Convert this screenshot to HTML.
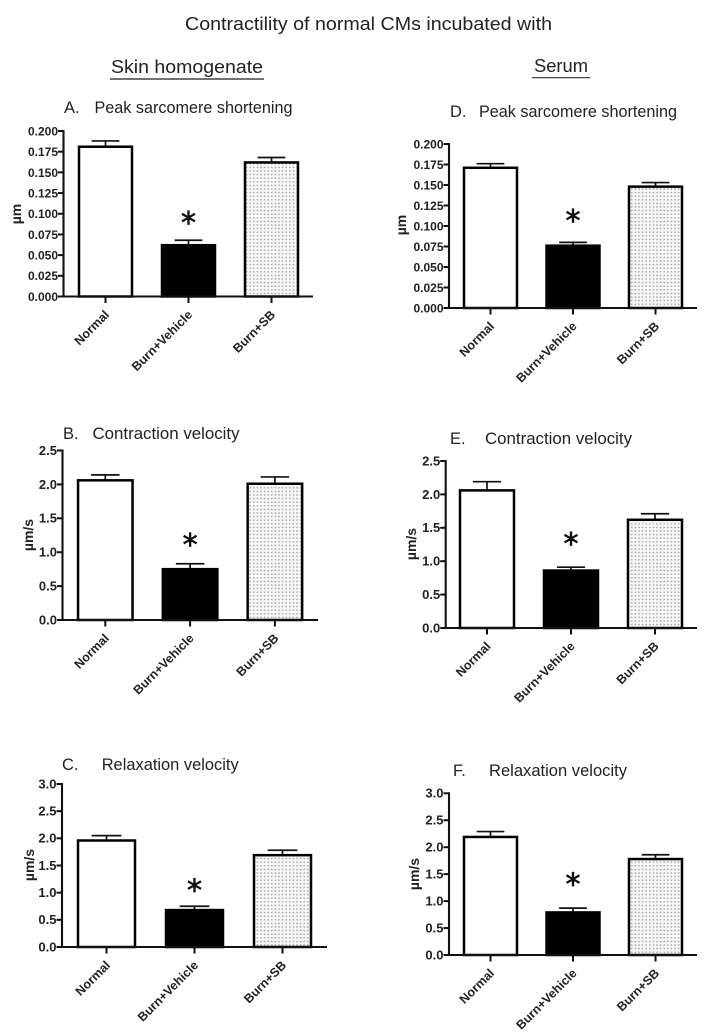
<!DOCTYPE html>
<html lang="en">
<head>
<meta charset="utf-8">
<title>Contractility of normal CMs</title>
<style>
html,body{margin:0;padding:0;background:#fff;width:716px;height:1033px;overflow:hidden}
svg{display:block;filter:blur(0.35px)}
.h{font-family:"Liberation Sans",sans-serif;fill:#222;font-size:16.5px}
.tick{font-family:"Liberation Sans",sans-serif;font-weight:bold;fill:#222}
.ast{font-family:"DejaVu Sans",sans-serif;fill:#111;stroke:#111;stroke-width:0.7px;font-size:30px;text-anchor:middle}
</style>
</head>
<body>
<svg id="fig" xmlns="http://www.w3.org/2000/svg" width="716" height="1033" viewBox="0 0 716 1033">
  <defs>
    <pattern id="dots" width="3.6" height="3.6" patternUnits="userSpaceOnUse">
      <rect width="3.6" height="3.6" fill="#f8f8f8"></rect>
      <circle cx="1.8" cy="1.8" r="0.8" fill="#999999"></circle>
    </pattern>
  </defs>
  <text class="h" x="185" y="30" style="font-size:18.5px" textLength="367" lengthAdjust="spacingAndGlyphs">Contractility of normal CMs incubated with</text>
  <text class="h" x="111" y="73" style="font-size:18.5px" textLength="152" lengthAdjust="spacingAndGlyphs">Skin homogenate</text>
  <line x1="110" y1="79" x2="264" y2="79" stroke="#444" stroke-width="1.5"></line>
  <text class="h" x="534" y="72" style="font-size:18.5px" textLength="54" lengthAdjust="spacingAndGlyphs">Serum</text>
  <line x1="532" y1="77.7" x2="590" y2="77.7" stroke="#333" stroke-width="1.2"></line>

  <text class="h" x="64" y="113">A.</text>
  <text class="h" x="94.5" y="113" textLength="198" lengthAdjust="spacingAndGlyphs">Peak sarcomere shortening</text>
  <text class="h" x="63" y="439">B.</text>
  <text class="h" x="92.5" y="439" textLength="147" lengthAdjust="spacingAndGlyphs">Contraction velocity</text>
  <text class="h" x="62" y="770">C.</text>
  <text class="h" x="101.7" y="770" textLength="137" lengthAdjust="spacingAndGlyphs">Relaxation velocity</text>
  <text class="h" x="450" y="117">D.</text>
  <text class="h" x="479" y="117" textLength="198" lengthAdjust="spacingAndGlyphs">Peak sarcomere shortening</text>
  <text class="h" x="450" y="444">E.</text>
  <text class="h" x="485" y="444" textLength="147" lengthAdjust="spacingAndGlyphs">Contraction velocity</text>
  <text class="h" x="453" y="776">F.</text>
  <text class="h" x="489" y="776" textLength="138" lengthAdjust="spacingAndGlyphs">Relaxation velocity</text>
</svg>
<script>
const categories = ['Normal', 'Burn+Vehicle', 'Burn+SB'];
const ticksShortening = ['0.000', '0.025', '0.050', '0.075', '0.100', '0.125', '0.150', '0.175', '0.200'];
const ticksContraction = ['0.0', '0.5', '1.0', '1.5', '2.0', '2.5'];
const ticksRelaxation = ['0.0', '0.5', '1.0', '1.5', '2.0', '2.5', '3.0'];

const meansA = [0.181, 0.062, 0.162];
const errTopsA = [0.188, 0.068, 0.168];
const meansB = [2.06, 0.75, 2.01];
const errTopsB = [2.14, 0.83, 2.11];
const meansC = [1.96, 0.68, 1.69];
const errTopsC = [2.05, 0.75, 1.78];
const meansD = [0.171, 0.076, 0.148];
const errTopsD = [0.176, 0.080, 0.153];
const meansE = [2.06, 0.86, 1.62];
const errTopsE = [2.19, 0.91, 1.71];
const meansF = [2.19, 0.79, 1.78];
const errTopsF = [2.29, 0.87, 1.86];

/* Significance marker height on the Burn+Vehicle bar, in axis units per panel */
const starLevels = [0.095, 1.18, 1.13, 0.112, 1.33, 1.40];

const NS = 'http://www.w3.org/2000/svg';
const fig = document.getElementById('fig');

function add(parent, tag, attrs, text) {
  const el = document.createElementNS(NS, tag);
  for (const k in attrs) el.setAttribute(k, attrs[k]);
  if (text !== undefined) el.textContent = text;
  parent.appendChild(el);
  return el;
}

function drawPanel(p) {
  const g = add(fig, 'g', {});
  
  

  const yMax = Number(p.ticks[p.ticks.length - 1]);
  const yScale = v => p.y0 - (v / yMax) * (p.y0 - p.yTop);
  const xScale = i => p.c0 + i * p.step;

  categories.forEach((cat, i) => {
    const cx = xScale(i);
    const sw = 2.5;
    const topY = yScale(p.means[i]);
    const errY = yScale(p.errTops[i]);

    const stem = add(g, 'line', { x1: cx, x2: cx, y1: topY, y2: errY, stroke: '#111', 'stroke-width': 1.7 });
    
    
    const cap = add(g, 'line', { x1: cx - p.w / 4, x2: cx + p.w / 4, y1: errY, y2: errY, stroke: '#111', 'stroke-width': 1.7 });
    
    

    const fill = i === 0 ? '#fff' : i === 1 ? '#000' : 'url(#dots)';
    const bar = add(g, 'rect', {
      x: cx - p.w / 2 + sw / 2, y: topY,
      width: p.w - sw, height: p.y0 - topY,
      fill: fill, stroke: '#000', 'stroke-width': sw
    });
    
    

    const tk = add(g, 'line', { x1: cx, x2: cx, y1: p.y0, y2: p.y0 + 6.5, stroke: '#111', 'stroke-width': 2 });
    
    

    const lx = cx + 4.5;
    const ly = p.y0 + 19;
    const lab = add(g, 'text', {
      class: 'tick', x: lx, y: ly, 'text-anchor': 'end',
      'font-size': 12.5, transform: 'rotate(-45 ' + lx + ' ' + ly + ')'
    }, cat);
    
    
  });

  const yAxis = add(g, 'line', { x1: p.axisX, x2: p.axisX, y1: p.yTop - 1, y2: p.y0 + 1, stroke: '#111', 'stroke-width': 2.1 });
  
  
  const xAxis = add(g, 'line', { x1: p.axisX - 5, x2: p.xEnd, y1: p.y0, y2: p.y0, stroke: '#111', 'stroke-width': 2.1 });
  
  

  p.ticks.forEach(label => {
    const y = yScale(Number(label));
    const tk = add(g, 'line', { x1: p.axisX - 5.5, x2: p.axisX, y1: y, y2: y, stroke: '#111', 'stroke-width': 2 });
    
    
    const t = add(g, 'text', {
      class: 'tick', x: p.axisX - 5.5, y: y + 4.4, 'text-anchor': 'end', 'font-size': p.tickSize
    }, label);
    
    
  });

  const yt = add(g, 'text', {
    class: 'tick', x: p.titleX, y: p.titleY, 'text-anchor': 'middle', 'font-size': 14,
    transform: 'rotate(-90 ' + p.titleX + ' ' + p.titleY + ')'
  }, p.unit);
  
  

  const star = add(g, 'text', { class: 'ast', x: xScale(1), y: yScale(p.star) + 15 }, '*');
  
  
}

drawPanel({ id: 'a', axisX: 63.5, xEnd: 313, y0: 296.5, yTop: 131, c0: 105.5, step: 83, w: 55.5, ticks: ticksShortening, means: meansA, errTops: errTopsA, star: starLevels[0], unit: 'µm', titleX: 21, titleY: 214, tickSize: 12 });
drawPanel({ id: 'b', axisX: 62.5, xEnd: 318, y0: 620, yTop: 450.5, c0: 105.3, step: 84.8, w: 57, ticks: ticksContraction, means: meansB, errTops: errTopsB, star: starLevels[1], unit: 'µm/s', titleX: 33, titleY: 535, tickSize: 13 });
drawPanel({ id: 'c', axisX: 62, xEnd: 327, y0: 947, yTop: 784, c0: 106.5, step: 88, w: 59.5, ticks: ticksRelaxation, means: meansC, errTops: errTopsC, star: starLevels[2], unit: 'µm/s', titleX: 34, titleY: 865, tickSize: 13 });
drawPanel({ id: 'd', axisX: 449, xEnd: 697, y0: 308, yTop: 144, c0: 490.5, step: 82.5, w: 55.5, ticks: ticksShortening, means: meansD, errTops: errTopsD, star: starLevels[3], unit: 'µm', titleX: 406, titleY: 225, tickSize: 12 });
drawPanel({ id: 'e', axisX: 445.7, xEnd: 697, y0: 628, yTop: 461, c0: 487, step: 84, w: 56.5, ticks: ticksContraction, means: meansE, errTops: errTopsE, star: starLevels[4], unit: 'µm/s', titleX: 416, titleY: 544, tickSize: 13 });
drawPanel({ id: 'f', axisX: 449, xEnd: 697, y0: 955, yTop: 793.3, c0: 490.5, step: 82.5, w: 55.5, ticks: ticksRelaxation, means: meansF, errTops: errTopsF, star: starLevels[5], unit: 'µm/s', titleX: 419, titleY: 874, tickSize: 13 });
</script>
</body>
</html>
